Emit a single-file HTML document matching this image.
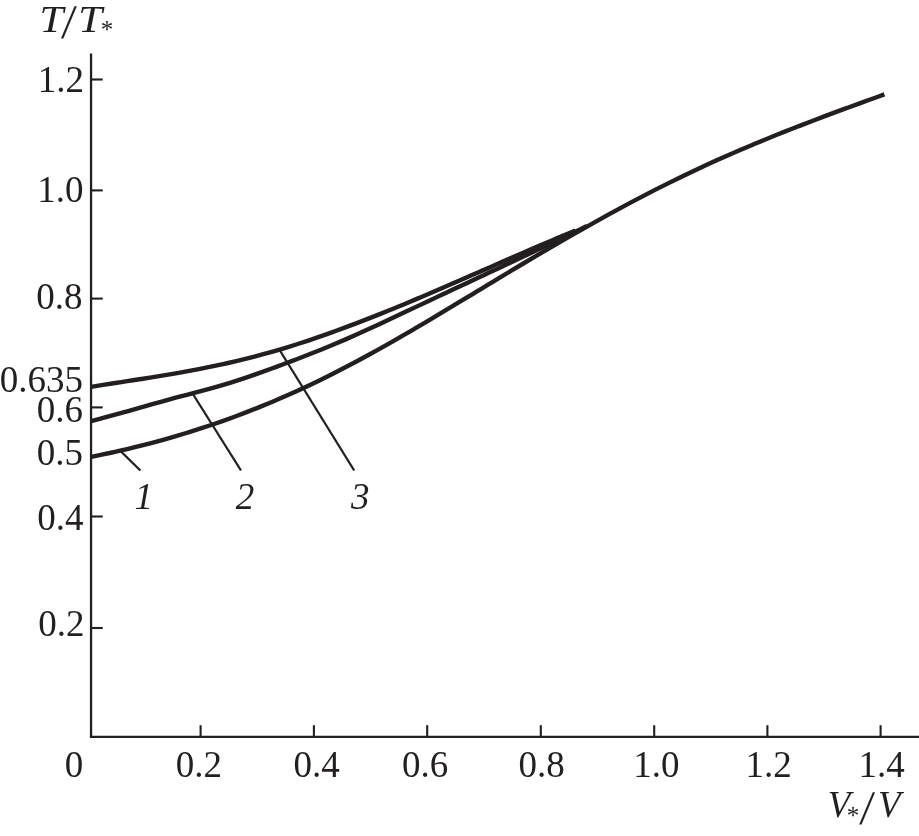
<!DOCTYPE html>
<html lang="en"><head><meta charset="utf-8"><title>T/T* versus V*/V</title>
<style>
html,body{margin:0;padding:0;background:#fff;}
body{width:919px;height:836px;overflow:hidden;}
svg{display:block;}
text{font-family:"Liberation Serif",serif;fill:#231f20;}
.n{font-size:37px;}
.i{font-size:37px;font-style:italic;}
.c{fill:none;stroke:#231f20;stroke-width:4.4;stroke-linecap:butt;stroke-linejoin:round;}
.a{fill:none;stroke:#231f20;stroke-width:2.3;stroke-linecap:butt;}
.t{fill:none;stroke:#231f20;stroke-width:2.1;stroke-linecap:butt;}
.l{fill:none;stroke:#231f20;stroke-width:2.3;stroke-linecap:butt;}
</style></head><body>
<svg width="919" height="836" viewBox="0 0 919 836">
<rect width="919" height="836" fill="#fff"/>

<path class="a" d="M91.05,53.4 V738.1"/>
<path class="a" d="M89.9,736.95 H919"/>
<path class="t" d="M91,79.5 H102.7"/>
<text class="n" x="84" y="92" text-anchor="end">1.2</text>
<path class="t" d="M91,190.4 H102.7"/>
<text class="n" x="83.5" y="202.3" text-anchor="end">1.0</text>
<path class="t" d="M91,298.6 H102.7"/>
<text class="n" x="82.5" y="309.3" text-anchor="end">0.8</text>
<path class="t" d="M91,407.4 H102.7"/>
<text class="n" x="83" y="422" text-anchor="end">0.6</text>
<path class="t" d="M91,516.5 H102.7"/>
<text class="n" x="83.5" y="530.2" text-anchor="end">0.4</text>
<path class="t" d="M91,628.0 H102.7"/>
<text class="n" x="84.5" y="636" text-anchor="end">0.2</text>
<text class="n" x="83" y="392" text-anchor="end">0.635</text>
<text class="n" x="83" y="464.5" text-anchor="end">0.5</text>
<path class="t" d="M200.6,725.2 V737"/>
<text class="n" x="198.9" y="777.3" text-anchor="middle">0.2</text>
<path class="t" d="M313.9,725.2 V737"/>
<text class="n" x="316.5" y="777.3" text-anchor="middle">0.4</text>
<path class="t" d="M427.2,725.2 V737"/>
<text class="n" x="425.0" y="777.3" text-anchor="middle">0.6</text>
<path class="t" d="M540.8,725.2 V737"/>
<text class="n" x="541.5" y="777.3" text-anchor="middle">0.8</text>
<path class="t" d="M654.2,725.2 V737"/>
<text class="n" x="656.3" y="777.3" text-anchor="middle">1.0</text>
<path class="t" d="M767.4,725.2 V737"/>
<text class="n" x="768.5" y="777.3" text-anchor="middle">1.2</text>
<path class="t" d="M880.6,725.2 V737"/>
<text class="n" x="881.6" y="777.3" text-anchor="middle">1.4</text>
<text class="n" x="74" y="777.3" text-anchor="middle">0</text>
<path class="c" d="M91.00,386.88 C95.04,386.22 99.08,385.57 103.11,384.94 C107.15,384.30 111.19,383.66 115.22,383.03 C119.26,382.40 123.30,381.78 127.34,381.15 C131.38,380.52 135.41,379.89 139.45,379.25 C143.49,378.62 147.53,377.98 151.56,377.33 C155.60,376.68 159.64,376.03 163.68,375.36 C167.71,374.69 171.75,374.00 175.79,373.30 C179.83,372.60 183.86,371.89 187.90,371.15 C191.94,370.41 195.97,369.66 200.01,368.88 C204.05,368.09 208.09,367.29 212.12,366.45 C216.16,365.62 220.20,364.76 224.24,363.87 C228.28,362.97 232.31,362.05 236.35,361.09 C240.39,360.13 244.43,359.15 248.46,358.13 C252.50,357.11 256.54,356.05 260.58,354.97 C264.61,353.88 268.65,352.76 272.69,351.60 C276.73,350.45 280.76,349.26 284.80,348.04 C288.84,346.81 292.88,345.56 296.91,344.27 C300.95,342.98 304.99,341.66 309.02,340.31 C313.06,338.96 317.10,337.58 321.14,336.17 C325.18,334.76 329.21,333.33 333.25,331.87 C337.29,330.41 341.32,328.93 345.36,327.43 C349.40,325.92 353.44,324.40 357.48,322.85 C361.51,321.30 365.55,319.74 369.59,318.15 C373.63,316.57 377.66,314.96 381.70,313.34 C385.74,311.72 389.78,310.08 393.81,308.43 C397.85,306.78 401.89,305.11 405.93,303.43 C409.96,301.75 414.00,300.06 418.04,298.36 C422.08,296.66 426.11,294.94 430.15,293.22 C434.19,291.50 438.23,289.77 442.26,288.03 C446.30,286.29 450.34,284.54 454.38,282.79 C458.41,281.04 462.45,279.28 466.49,277.52 C470.53,275.76 474.56,274.00 478.60,272.23 C482.64,270.47 486.68,268.70 490.71,266.93 C494.75,265.17 498.79,263.40 502.83,261.64 C506.86,259.88 510.90,258.11 514.94,256.36 C518.98,254.60 523.01,252.85 527.05,251.10 C531.09,249.35 535.12,247.61 539.16,245.88 C543.20,244.15 547.24,242.42 551.28,240.71 C555.31,238.99 559.35,237.28 563.39,235.59 C567.43,233.90 571.46,232.22 575.50,230.55"/>
<path class="c" d="M91.00,421.12 C95.03,420.09 99.07,419.03 103.10,417.95 C107.13,416.86 111.16,415.76 115.20,414.64 C119.23,413.53 123.26,412.39 127.29,411.26 C131.33,410.12 135.36,408.97 139.39,407.83 C143.42,406.68 147.46,405.53 151.49,404.39 C155.52,403.26 159.55,402.13 163.59,401.01 C167.62,399.89 171.65,398.79 175.68,397.71 C179.72,396.63 183.75,395.57 187.78,394.52 C191.81,393.47 195.85,392.42 199.88,391.35 C203.91,390.28 207.94,389.20 211.98,388.08 C216.01,386.96 220.04,385.80 224.07,384.59 C228.11,383.38 232.14,382.12 236.17,380.82 C240.20,379.53 244.24,378.19 248.27,376.82 C252.30,375.45 256.33,374.04 260.37,372.61 C264.40,371.18 268.43,369.73 272.46,368.25 C276.50,366.78 280.53,365.29 284.56,363.78 C288.59,362.27 292.63,360.75 296.66,359.22 C300.69,357.68 304.72,356.12 308.76,354.54 C312.79,352.96 316.82,351.36 320.85,349.73 C324.89,348.10 328.92,346.44 332.95,344.76 C336.98,343.08 341.02,341.36 345.05,339.61 C349.08,337.87 353.11,336.09 357.15,334.29 C361.18,332.48 365.21,330.66 369.24,328.81 C373.28,326.96 377.31,325.10 381.34,323.22 C385.37,321.34 389.41,319.45 393.44,317.55 C397.47,315.65 401.50,313.75 405.54,311.84 C409.57,309.94 413.60,308.04 417.63,306.13 C421.67,304.23 425.70,302.33 429.73,300.44 C433.76,298.54 437.80,296.64 441.83,294.75 C445.86,292.85 449.89,290.96 453.93,289.07 C457.96,287.18 461.99,285.29 466.02,283.40 C470.06,281.52 474.09,279.63 478.12,277.74 C482.15,275.86 486.19,273.97 490.22,272.09 C494.25,270.20 498.28,268.32 502.32,266.43 C506.35,264.54 510.38,262.65 514.41,260.76 C518.45,258.87 522.48,256.97 526.51,255.07 C530.54,253.17 534.58,251.27 538.61,249.36 C542.64,247.45 546.67,245.53 550.71,243.61 C554.74,241.69 558.77,239.76 562.80,237.82 C566.84,235.89 570.87,233.94 574.90,231.99 C578.93,230.03 582.97,228.07 587.00,226.10"/>
<path class="c" d="M91.00,456.90 C95.01,456.10 99.01,455.27 103.02,454.42 C107.03,453.57 111.04,452.70 115.04,451.80 C119.05,450.90 123.06,449.98 127.06,449.03 C131.07,448.08 135.08,447.11 139.08,446.11 C143.09,445.10 147.10,444.08 151.11,443.02 C155.11,441.97 159.12,440.88 163.13,439.77 C167.13,438.66 171.14,437.52 175.15,436.35 C179.16,435.18 183.16,433.98 187.17,432.75 C191.18,431.52 195.18,430.26 199.19,428.97 C203.20,427.67 207.21,426.35 211.21,424.99 C215.22,423.64 219.23,422.25 223.23,420.83 C227.24,419.41 231.25,417.96 235.25,416.47 C239.26,414.99 243.27,413.47 247.28,411.92 C251.28,410.37 255.29,408.78 259.30,407.17 C263.30,405.55 267.31,403.90 271.32,402.22 C275.33,400.54 279.33,398.82 283.34,397.07 C287.35,395.32 291.35,393.54 295.36,391.72 C299.37,389.91 303.37,388.06 307.38,386.17 C311.39,384.29 315.40,382.37 319.40,380.42 C323.41,378.47 327.42,376.48 331.42,374.47 C335.43,372.45 339.44,370.41 343.45,368.33 C347.45,366.25 351.46,364.14 355.47,362.01 C359.47,359.87 363.48,357.71 367.49,355.52 C371.49,353.33 375.50,351.11 379.51,348.87 C383.52,346.63 387.52,344.37 391.53,342.08 C395.54,339.80 399.54,337.50 403.55,335.18 C407.56,332.86 411.57,330.52 415.57,328.17 C419.58,325.82 423.59,323.45 427.59,321.08 C431.60,318.70 435.61,316.32 439.62,313.92 C443.62,311.52 447.63,309.12 451.64,306.71 C455.64,304.30 459.65,301.88 463.66,299.46 C467.66,297.05 471.67,294.62 475.68,292.20 C479.69,289.78 483.69,287.35 487.70,284.93 C491.71,282.51 495.71,280.09 499.72,277.67 C503.73,275.25 507.74,272.84 511.74,270.44 C515.75,268.04 519.76,265.64 523.76,263.25 C527.77,260.86 531.78,258.49 535.78,256.12 C539.79,253.75 543.80,251.40 547.81,249.05 C551.81,246.71 555.82,244.37 559.83,242.05 C563.83,239.73 567.84,237.43 571.85,235.13 C575.86,232.84 579.86,230.56 583.87,228.29 C587.88,226.03 591.88,223.78 595.89,221.55 C599.90,219.31 603.91,217.10 607.91,214.90 C611.92,212.70 615.93,210.51 619.93,208.35 C623.94,206.18 627.95,204.04 631.95,201.91 C635.96,199.79 639.97,197.68 643.98,195.59 C647.98,193.51 651.99,191.44 656.00,189.40 C660.00,187.36 664.01,185.34 668.02,183.34 C672.03,181.35 676.03,179.37 680.04,177.43 C684.05,175.48 688.05,173.55 692.06,171.66 C696.07,169.76 700.07,167.89 704.08,166.04 C708.09,164.19 712.10,162.36 716.10,160.56 C720.11,158.76 724.12,156.98 728.12,155.22 C732.13,153.46 736.14,151.73 740.15,150.01 C744.15,148.29 748.16,146.60 752.17,144.92 C756.17,143.24 760.18,141.58 764.19,139.94 C768.19,138.29 772.20,136.67 776.21,135.06 C780.22,133.45 784.22,131.85 788.23,130.27 C792.24,128.69 796.24,127.13 800.25,125.58 C804.26,124.02 808.27,122.48 812.27,120.95 C816.28,119.43 820.29,117.91 824.29,116.40 C828.30,114.90 832.31,113.40 836.32,111.91 C840.32,110.43 844.33,108.95 848.34,107.48 C852.34,106.00 856.35,104.54 860.36,103.08 C864.36,101.62 868.37,100.17 872.38,98.73 C876.39,97.28 880.39,95.84 884.40,94.40"/>
<path class="l" d="M121,451.5 L140.4,470.5"/>
<path class="l" d="M193.2,394.5 L241,470.5"/>
<path class="l" d="M279.6,350 L354.2,470.5"/>
<text class="i" x="134.5" y="508.5">1</text>
<text class="i" x="235.8" y="508.5">2</text>
<text class="i" x="351" y="508.5">3</text>
<text class="i" transform="translate(39.4,32.1) scale(1.157,1)">T</text>
<text class="n" transform="translate(61,38.1) skewX(-4.3)" style="font-size:48.3px">/</text>
<text class="i" transform="translate(78.3,32.1) scale(1.157,1)">T</text>
<text class="n" x="100.8" y="37.9" style="font-size:25px">*</text>
<text class="i" x="827.7" y="817.2">V</text>
<text class="n" x="846.8" y="824.1" style="font-size:25px">*</text>
<text class="n" transform="translate(859.2,823.5) skewX(-4.3)" style="font-size:48.3px">/</text>
<text class="i" x="878.1" y="817.2">V</text>
</svg></body></html>
